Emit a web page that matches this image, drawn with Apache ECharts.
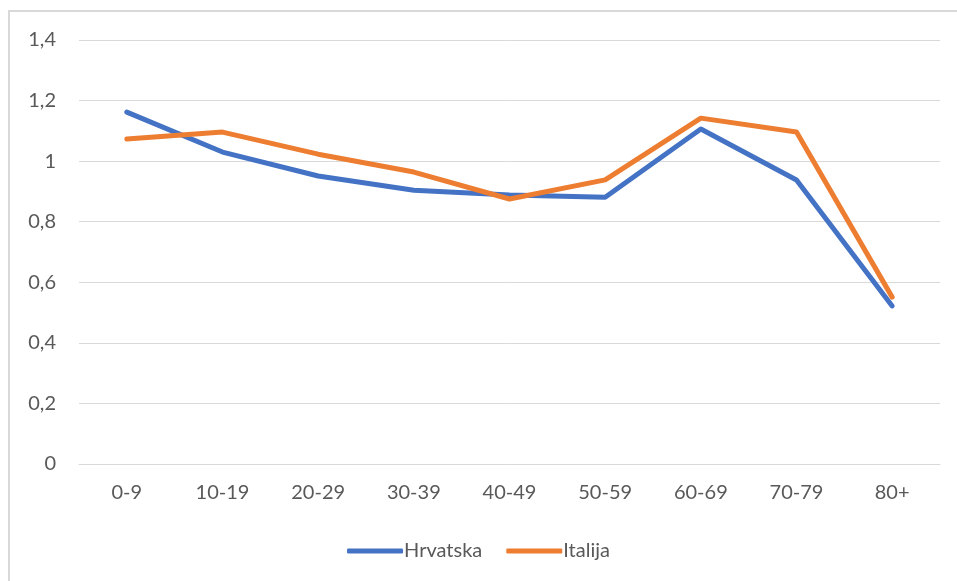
<!DOCTYPE html>
<html>
<head>
<meta charset="utf-8">
<style>
    html,body{margin:0;padding:0;background:#fff;}
    #main{width:957px;height:581px;}
</style>
<script src="https://cdn.jsdelivr.net/npm/echarts@6/dist/echarts.min.js"></script>
</head>
<body>
<div id="main"></div>
<script>
    // dobne skupine
    var categories = ['0-9', '10-19', '20-29', '30-39', '40-49', '50-59', '60-69', '70-79', '80+'];
    var hrvatska = [1.162, 1.030, 0.951, 0.904, 0.888, 0.881, 1.106, 0.938, 0.522];
    var italija = [1.073, 1.096, 1.023, 0.964, 0.875, 0.938, 1.142, 1.096, 0.551];
    var seriesNames = ['Hrvatska', 'Italija'];
    var colors = ['#4472C4', '#ED7D31'];

    var font = 'Lato, "Open Sans", sans-serif';
    var chart = echarts.init(document.getElementById('main'));
    var option = {
        animation: false,
        color: colors,
        graphic: [{
            type: 'rect',
            shape: {x: 9, y: 11, width: 1000, height: 700},
            style: {fill: 'none', stroke: '#d9d9d9', lineWidth: 2},
            silent: true
        }],
        grid: {left: 79, right: 17, top: 40, bottom: 117},
        legend: {
            data: seriesNames,
            left: 'center',
            top: 536,
            icon: 'roundRect',
            itemWidth: 56,
            itemHeight: 5,
            itemGap: 24,
            textStyle: {color: '#595959', fontSize: 20, fontFamily: font, padding: [0, 0, 0, -4]}
        },
        xAxis: {
            type: 'category',
            data: categories,
            boundaryGap: true,
            axisLine: {show: true, lineStyle: {color: '#d9d9d9', width: 1}},
            axisTick: {show: false},
            axisLabel: {color: '#595959', fontSize: 20, fontFamily: font, margin: 19}
        },
        yAxis: {
            type: 'value',
            min: 0,
            max: 1.4,
            interval: 0.2,
            axisLine: {show: false},
            axisTick: {show: false},
            splitLine: {lineStyle: {color: '#d9d9d9', width: 1}},
            axisLabel: {
                color: '#595959', fontSize: 20, fontFamily: font, margin: 23,
                formatter: function (v) {
                    return String(Math.round(v * 10) / 10).replace('.', ',');
                }
            }
        },
        series: [
            {
                name: seriesNames[0],
                type: 'line',
                data: hrvatska,
                showSymbol: false,
                lineStyle: {width: 5, cap: 'round', join: 'round'}
            },
            {
                name: seriesNames[1],
                type: 'line',
                data: italija,
                showSymbol: false,
                lineStyle: {width: 5, cap: 'round', join: 'round'}
            }
        ]
    };
    chart.setOption(option);
</script>
</body>
</html>
